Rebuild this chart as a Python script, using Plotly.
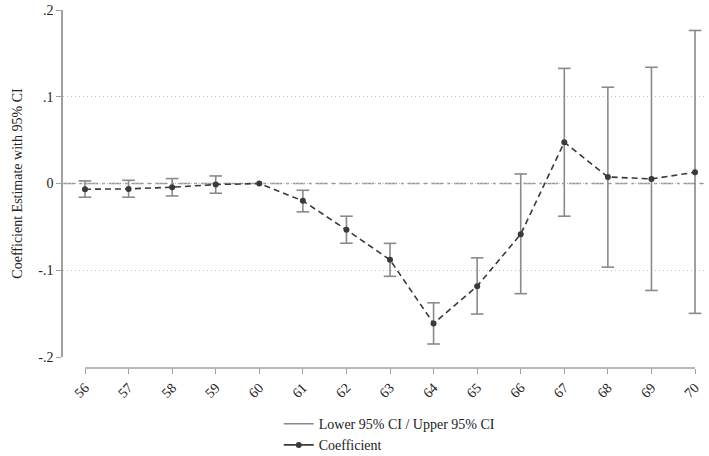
import plotly.graph_objects as go

years = [56, 57, 58, 59, 60, 61, 62, 63, 64, 65, 66, 67, 68, 69, 70]
coef = [-0.0066, -0.0062, -0.0043, -0.0012, 0.0, -0.0200, -0.0534, -0.0880, -0.1613,
        -0.1183, -0.0584, 0.0475, 0.0075, 0.0053, 0.0130]
ci_hi = [0.0030, 0.0037, 0.0057, 0.0087, None, -0.0078, -0.0377, -0.0690, -0.1375,
         -0.0857, 0.0110, 0.1327, 0.1110, 0.1340, 0.1764]
ci_lo = [-0.0158, -0.0158, -0.0143, -0.0112, None, -0.0327, -0.0688, -0.1070, -0.1850,
         -0.1505, -0.1270, -0.0377, -0.0964, -0.1233, -0.1497]

ytick_vals = [-0.2, -0.1, 0, 0.1, 0.2]
ytick_text = ["-.2", "-.1", "0", ".1", ".2"]

FONT = "Liberation Serif, Times New Roman, serif"
CI_COLOR = "#8a8a8a"
LINE_COLOR = "#3a3a3a"
AXIS_COLOR = "#a0a0a0"

# CI segments (vertical lines) built from the arrays
seg_x, seg_y = [], []
cap_x, cap_y = [], []
for x, lo, hi in zip(years, ci_lo, ci_hi):
    if lo is None or hi is None:
        continue
    seg_x += [x, x, None]
    seg_y += [lo, hi, None]
    cap_x += [x, x]
    cap_y += [lo, hi]

fig = go.Figure()

fig.add_trace(go.Scatter(
    x=seg_x, y=seg_y, mode="lines",
    line=dict(color=CI_COLOR, width=1.6),
    name="Lower 95% CI / Upper 95% CI",
    legendgroup="ci", legendrank=1,
))
fig.add_trace(go.Scatter(
    x=cap_x, y=cap_y, mode="markers",
    marker=dict(symbol="line-ew-open", size=9, color=CI_COLOR,
                line=dict(color=CI_COLOR, width=1.6)),
    showlegend=False, legendgroup="ci", hoverinfo="skip",
))
fig.add_trace(go.Scatter(
    x=years, y=coef, mode="lines+markers",
    line=dict(color=LINE_COLOR, width=1.6, dash="6px,4px"),
    marker=dict(color=LINE_COLOR, size=6),
    name="Coefficient", showlegend=False,
))
# legend proxy (solid glyph as in the reference legend)
fig.add_trace(go.Scatter(
    x=[None], y=[None], mode="lines+markers",
    line=dict(color=LINE_COLOR, width=1.6),
    marker=dict(color=LINE_COLOR, size=6),
    name="Coefficient", legendrank=2,
))

fig.update_layout(
    width=709, height=456,
    margin=dict(l=63, r=2, t=10, b=88, autoexpand=False),
    paper_bgcolor="white", plot_bgcolor="white",
    font=dict(family=FONT, size=14, color="#222"),
    showlegend=True,
    legend=dict(
        orientation="v", x=0.335, xanchor="left", y=-0.112, yanchor="top",
        font=dict(family=FONT, size=14, color="#222"),
        bgcolor="rgba(0,0,0,0)", tracegroupgap=0, itemwidth=30,
    ),
    xaxis=dict(
        range=[55.495, 70.275], domain=[0, 1],
        anchor="free", position=0, automargin=False,
        tickmode="array", tickvals=years, ticktext=[str(y) for y in years],
        tickangle=-45, ticks="outside", ticklen=5, tickcolor=AXIS_COLOR, tickwidth=1.2,
        showgrid=False, zeroline=False, showline=False,
        tickfont=dict(family=FONT, size=14, color="#222"),
    ),
    yaxis=dict(
        range=[-0.2, 0.2], domain=[11 / 358, 1], automargin=False,
        tickmode="array", tickvals=ytick_vals, ticktext=ytick_text,
        ticks="outside", ticklen=5, tickcolor=AXIS_COLOR, tickwidth=1.2,
        showline=True, linecolor=AXIS_COLOR, linewidth=1.5,
        showgrid=True, gridcolor="#bdbdbd", griddash="1px,3px", gridwidth=1,
        zeroline=False,
        title=dict(text="Coefficient Estimate with 95% CI", standoff=12,
                   font=dict(family=FONT, size=14, color="#222")),
        tickfont=dict(family=FONT, size=14, color="#222"),
    ),
    shapes=[
        dict(type="line", xref="paper", yref="y", x0=0, x1=1, y0=0, y1=0,
             line=dict(color="#9a9a9a", width=1.4, dash="12px,4px,3px,4px"), layer="below"),
        dict(type="line", xref="x", yref="paper", x0=years[0], x1=years[-1], y0=0, y1=0,
             line=dict(color=AXIS_COLOR, width=1.5)),
    ],
)

fig.write_html("out.html")
